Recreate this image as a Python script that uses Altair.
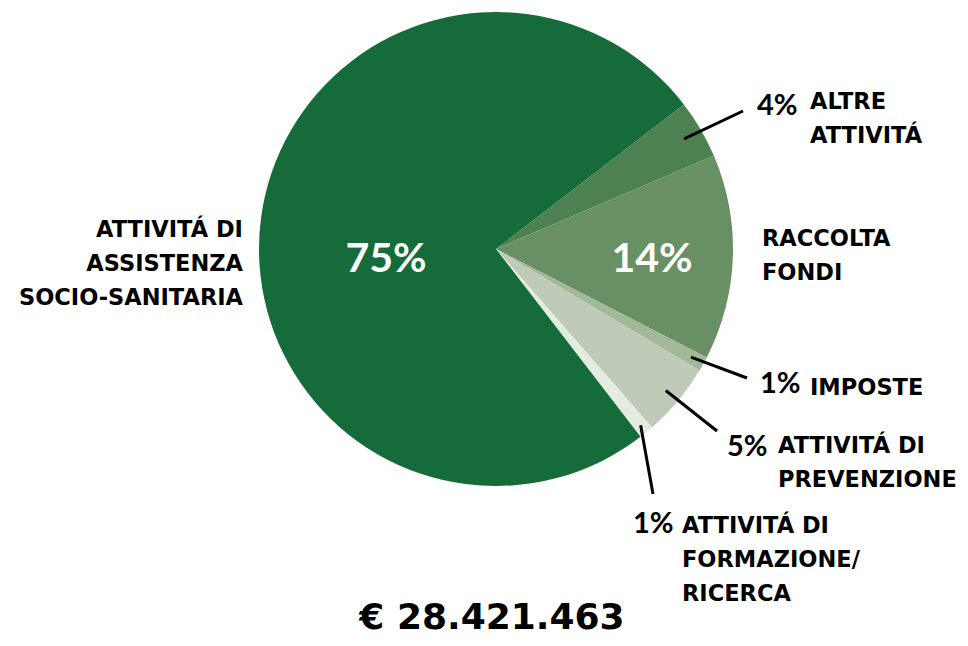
import math
import altair as alt
import pandas as pd

# ---- data ----
categories = [
    "ALTRE ATTIVITÁ",
    "RACCOLTA FONDI",
    "IMPOSTE",
    "ATTIVITÁ DI PREVENZIONE",
    "ATTIVITÁ DI FORMAZIONE/RICERCA",
    "ATTIVITÁ DI ASSISTENZA SOCIO-SANITARIA",
]
percent = [4, 14, 1, 5, 1, 75]
label_lines = [
    "ALTRE\nATTIVITÁ",
    "RACCOLTA\nFONDI",
    "IMPOSTE",
    "ATTIVITÁ DI\nPREVENZIONE",
    "ATTIVITÁ DI\nFORMAZIONE/\nRICERCA",
    "ATTIVITÁ DI\nASSISTENZA\nSOCIO-SANITARIA",
]
total_label = "€ 28.421.463"

# ---- styles / layout ----
colors = ["#4e8152", "#698f65", "#a2b898", "#bfcbb8", "#e4ebe1", "#166b3a"]
FONT = "Lato"
LABEL_FONT = "DejaVu Sans"
W, H = 952, 630
CX, CY, R = 488, 241, 237
START = 0.915  # radians, clockwise from 12 o'clock

# label anchor positions (chart pixel coords), per category
name_pos = [(802, 101), (754, 238), (802, 387), (770, 445), (674, 525), (235, 229)]
pct_pos = [(749, 107), None, (752, 385), (719, 448), (625, 525), None]
big_pos = [None, (644, 264), None, None, None, (378, 264)]
line_end = [(735, 103), None, (739, 370), (709, 423), (645, 486), None]
line_r = [218, None, 223, 221, 228, None]

df = pd.DataFrame({"cat": categories, "pct": percent, "order": list(range(len(categories)))})

# leader line starts derived from slice mid-angles
total = sum(percent)
cum = 0
rows = []
for i, p in enumerate(percent):
    mid = START + 2 * math.pi * (cum + p / 2) / total
    cum += p
    if line_end[i] is not None:
        r = line_r[i]
        rows.append({
            "x": CX + r * math.sin(mid), "y": CY - r * math.cos(mid),
            "x2": line_end[i][0], "y2": line_end[i][1],
        })
lines_df = pd.DataFrame(rows)

names_left = pd.DataFrame([
    {"x": name_pos[i][0], "y": name_pos[i][1], "t": label_lines[i]}
    for i in range(len(categories)) if i != 5
])
names_right = pd.DataFrame([{"x": name_pos[5][0], "y": name_pos[5][1], "t": label_lines[5]}])
pcts = pd.DataFrame([
    {"x": pct_pos[i][0], "y": pct_pos[i][1], "t": f"{percent[i]}%"}
    for i in range(len(categories)) if pct_pos[i] is not None
])
bigs = pd.DataFrame([
    {"x": big_pos[i][0], "y": big_pos[i][1], "t": f"{percent[i]}%"}
    for i in range(len(categories)) if big_pos[i] is not None
])
title_df = pd.DataFrame([{"x": 484, "y": 621, "t": total_label}])

xs = alt.Scale(domain=[0, W], range=[0, W])
ys = alt.Scale(domain=[0, H], range=[0, H])
X = lambda f: alt.X(f, type="quantitative", scale=xs, axis=None)
Y = lambda f: alt.Y(f, type="quantitative", scale=ys, axis=None)

pie = alt.Chart(df).mark_arc(outerRadius=R, stroke=None).encode(
    theta=alt.Theta("pct:Q", stack=True,
                    scale=alt.Scale(range=[START, START + 2 * math.pi])),
    color=alt.Color("cat:N", scale=alt.Scale(domain=categories, range=colors), legend=None),
    order=alt.Order("order:Q"),
    x=alt.value(CX),
    y=alt.value(CY),
)

leaders = alt.Chart(lines_df).mark_rule(color="black", strokeWidth=3).encode(
    x=X("x"), y=Y("y"), x2="x2:Q", y2="y2:Q"
)

txt_kw = dict(font=LABEL_FONT, fontWeight="bold", color="black", baseline="alphabetic",
              lineBreak="\n", lineHeight=34, fontSize=22.5)
t_left = alt.Chart(names_left).mark_text(align="left", **txt_kw).encode(
    x=X("x"), y=Y("y"), text="t:N")
t_right = alt.Chart(names_right).mark_text(align="right", **txt_kw).encode(
    x=X("x"), y=Y("y"), text="t:N")
t_pct = alt.Chart(pcts).mark_text(align="left", font=FONT, fontWeight="bold",
                                  color="black", baseline="alphabetic", fontSize=29).encode(
    x=X("x"), y=Y("y"), text="t:N")
t_big = alt.Chart(bigs).mark_text(align="center", font=FONT, fontWeight="bold",
                                  color="white", baseline="alphabetic", fontSize=41).encode(
    x=X("x"), y=Y("y"), text="t:N")
t_title = alt.Chart(title_df).mark_text(align="center", font="DejaVu Sans", fontWeight="bold",
                                        color="black", baseline="alphabetic", fontSize=36).encode(
    x=X("x"), y=Y("y"), text="t:N")

chart = alt.layer(pie, leaders, t_left, t_right, t_pct, t_big, t_title).properties(
    width=W, height=H, padding=0, autosize=alt.AutoSizeParams(type="none")
).configure_view(stroke=None)

chart.save("out.html", embed_options={"renderer": "svg", "actions": False})
